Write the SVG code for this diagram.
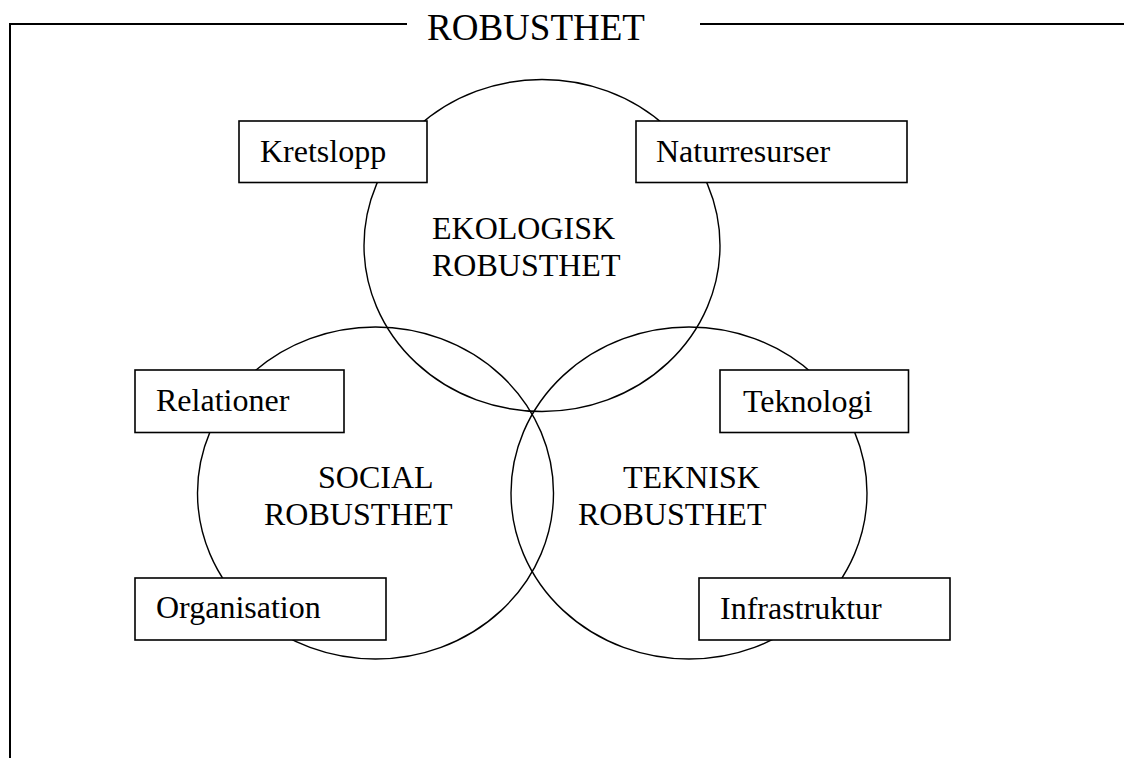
<svg xmlns="http://www.w3.org/2000/svg" width="1124" height="758" viewBox="0 0 1124 758">
<style>
.frame{stroke:#000;stroke-width:2;fill:none}
.circ{stroke:#000;stroke-width:1.4;fill:none}
.box{stroke:#000;stroke-width:1.6;fill:#fff}
text{font-family:"Liberation Serif","Times New Roman",serif;font-size:32px;fill:#000}
.title{font-size:37px}
</style>
<rect width="1124" height="758" fill="#fff"/>
<g id="frame">
<polyline class="frame" points="407,24 10,24 10,758"/>
<line class="frame" x1="700" y1="24" x2="1124" y2="24"/>
<text class="title" x="427" y="40">ROBUSTHET</text>
</g>
<g id="connectors"></g>
<g id="ekologisk">
<ellipse class="circ" cx="542" cy="245.5" rx="178" ry="166"/>
<text x="432" y="239">EKOLOGISK</text>
<text x="432" y="276">ROBUSTHET</text>
</g>
<g id="social">
<ellipse class="circ" cx="375.5" cy="493" rx="178" ry="166"/>
<text x="318" y="488">SOCIAL</text>
<text x="264" y="525">ROBUSTHET</text>
</g>
<g id="teknisk">
<ellipse class="circ" cx="689" cy="493" rx="178" ry="166"/>
<text x="623" y="488">TEKNISK</text>
<text x="578" y="525">ROBUSTHET</text>
</g>
<g id="kretslopp">
<rect class="box" x="239" y="121" width="188" height="61.5"/>
<text x="260" y="162">Kretslopp</text>
</g>
<g id="naturresurser">
<rect class="box" x="636" y="121" width="271" height="61.5"/>
<text x="656" y="162">Naturresurser</text>
</g>
<g id="relationer">
<rect class="box" x="135" y="370" width="209" height="62.5"/>
<text x="156" y="411">Relationer</text>
</g>
<g id="teknologi">
<rect class="box" x="720" y="370" width="188.5" height="62.5"/>
<text x="743" y="412">Teknologi</text>
</g>
<g id="organisation">
<rect class="box" x="135" y="578" width="251" height="62"/>
<text x="156" y="618">Organisation</text>
</g>
<g id="infrastruktur">
<rect class="box" x="699" y="578" width="251" height="62"/>
<text x="720" y="619">Infrastruktur</text>
</g>
</svg>
